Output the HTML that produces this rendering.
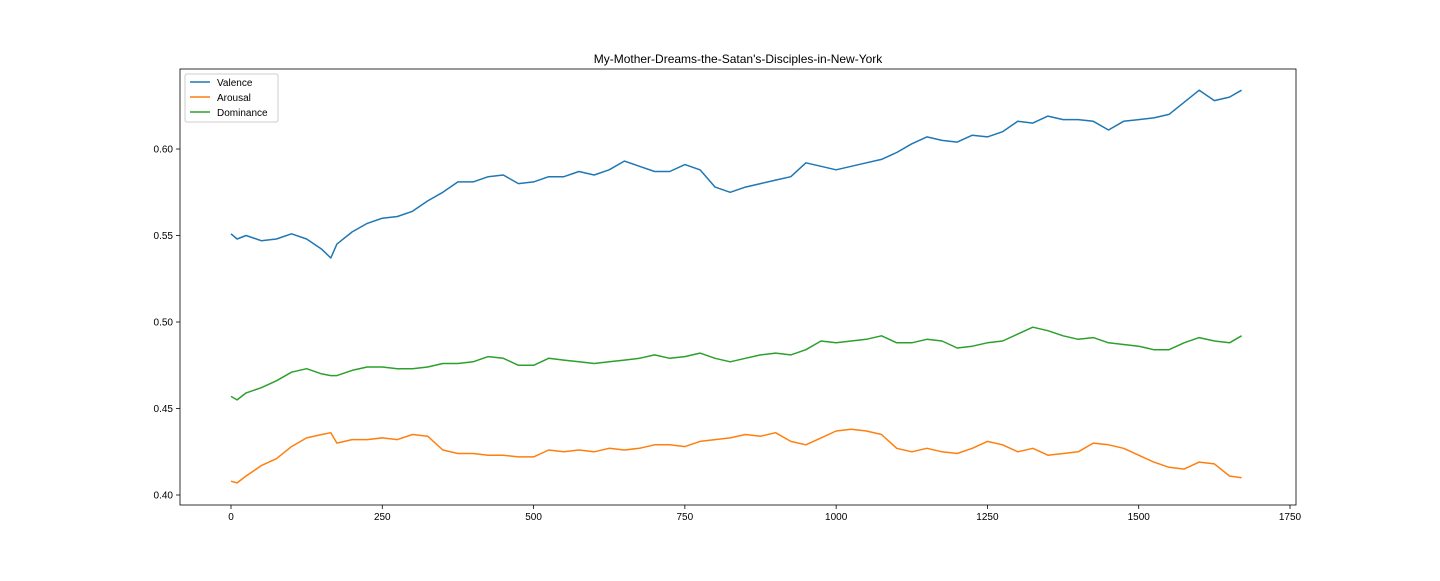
<!DOCTYPE html>
<html><head><meta charset="utf-8"><style>
body{margin:0;background:#fff;}
svg text{font-family:"Liberation Sans","DejaVu Sans",sans-serif;font-size:10px;fill:#000;}
</style></head><body>
<svg id="chart" width="1440" height="576">
<rect width="1440" height="576" fill="#fff"/>
<text x="738" y="63" text-anchor="middle" style="font-size:12px">My-Mother-Dreams-the-Satan's-Disciples-in-New-York</text>
<g id="axes"></g>
<g id="lines"></g>
<rect x="180" y="69" width="1116" height="436" fill="none" stroke="#000" stroke-width="0.8"/>
<g>
<rect x="185" y="74" width="93" height="48" fill="#fff" stroke="#ccc" rx="2"/>
<g><line x1="190" y1="82" x2="210" y2="82" stroke="#1f77b4" stroke-width="1.5"/><text x="217" y="86">Valence</text></g>
<g><line x1="190" y1="97" x2="210" y2="97" stroke="#ff7f0e" stroke-width="1.5"/><text x="217" y="101">Arousal</text></g>
<g><line x1="190" y1="112" x2="210" y2="112" stroke="#2ca02c" stroke-width="1.5"/><text x="217" y="116">Dominance</text></g>
</g>
</svg>
<script>
const xs=[0,10,25,50,75,100,125,150,165,175,200,225,250,275,300,325,350,375,400,425,450,475,500,525,550,575,600,625,650,675,700,725,750,775,800,825,850,875,900,925,950,975,1000,1025,1050,1075,1100,1125,1150,1175,1200,1225,1250,1275,1300,1325,1350,1375,1400,1425,1450,1475,1500,1525,1550,1575,1600,1625,1650,1670];
const valence=[0.551,0.548,0.550,0.547,0.548,0.551,0.548,0.542,0.537,0.545,0.552,0.557,0.560,0.561,0.564,0.570,0.575,0.581,0.581,0.584,0.585,0.580,0.581,0.584,0.584,0.587,0.585,0.588,0.593,0.590,0.587,0.587,0.591,0.588,0.578,0.575,0.578,0.580,0.582,0.584,0.592,0.590,0.588,0.590,0.592,0.594,0.598,0.603,0.607,0.605,0.604,0.608,0.607,0.610,0.616,0.615,0.619,0.617,0.617,0.616,0.611,0.616,0.617,0.618,0.620,0.627,0.634,0.628,0.630,0.634];
const arousal=[0.408,0.407,0.411,0.417,0.421,0.428,0.433,0.435,0.436,0.430,0.432,0.432,0.433,0.432,0.435,0.434,0.426,0.424,0.424,0.423,0.423,0.422,0.422,0.426,0.425,0.426,0.425,0.427,0.426,0.427,0.429,0.429,0.428,0.431,0.432,0.433,0.435,0.434,0.436,0.431,0.429,0.433,0.437,0.438,0.437,0.435,0.427,0.425,0.427,0.425,0.424,0.427,0.431,0.429,0.425,0.427,0.423,0.424,0.425,0.430,0.429,0.427,0.423,0.419,0.416,0.415,0.419,0.418,0.411,0.410];
const dominance=[0.457,0.455,0.459,0.462,0.466,0.471,0.473,0.470,0.469,0.469,0.472,0.474,0.474,0.473,0.473,0.474,0.476,0.476,0.477,0.480,0.479,0.475,0.475,0.479,0.478,0.477,0.476,0.477,0.478,0.479,0.481,0.479,0.480,0.482,0.479,0.477,0.479,0.481,0.482,0.481,0.484,0.489,0.488,0.489,0.490,0.492,0.488,0.488,0.490,0.489,0.485,0.486,0.488,0.489,0.493,0.497,0.495,0.492,0.490,0.491,0.488,0.487,0.486,0.484,0.484,0.488,0.491,0.489,0.488,0.492];
const xTicks=[0,250,500,750,1000,1250,1500,1750];
const yTicks=[0.40,0.45,0.50,0.55,0.60];
const NS="http://www.w3.org/2000/svg";
const X=v=>231+v*(1290-231)/1750;
const Y=v=>495-(v-0.40)*(495-149)/0.20;
const axes=document.getElementById('axes'),lines=document.getElementById('lines');
function mk(t,a,p){const e=document.createElementNS(NS,t);for(const k in a)e.setAttribute(k,a[k]);p.appendChild(e);return e;}
xTicks.forEach(t=>{
const g=mk('g',{},axes);


mk('line',{x1:X(t),x2:X(t),y1:505,y2:509,stroke:'#000','stroke-width':0.8},g);
const tx=mk('text',{x:X(t),y:520,'text-anchor':'middle'},g);tx.textContent=t;});
yTicks.forEach(t=>{
const g=mk('g',{},axes);


mk('line',{x1:176,x2:180,y1:Y(t),y2:Y(t),stroke:'#000','stroke-width':0.8},g);
const tx=mk('text',{x:173,y:Y(t)+3.5,'text-anchor':'end'},g);tx.textContent=t.toFixed(2);});
[[valence,'#1f77b4','valence-line'],[arousal,'#ff7f0e','arousal-line'],[dominance,'#2ca02c','dominance-line']].forEach(([d,c,n])=>{
const p=mk('path',{d:d.map((v,i)=>(i?'L':'M')+X(xs[i]).toFixed(1)+','+Y(v).toFixed(1)).join(''),fill:'none',stroke:c,'stroke-width':1.5,'stroke-linejoin':'round'},lines);


});
</script>
</body></html>
